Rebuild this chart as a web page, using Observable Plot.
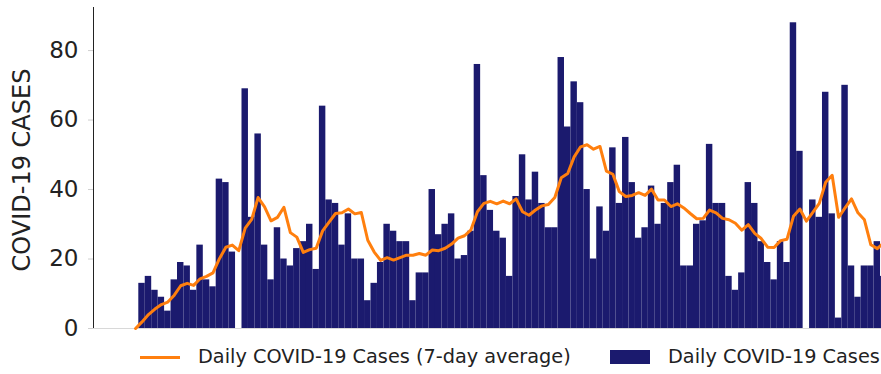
<!DOCTYPE html>
<html><head><meta charset="utf-8">
<script src="https://cdn.jsdelivr.net/npm/d3@7"></script>
<script src="https://cdn.jsdelivr.net/npm/@observablehq/plot@0.6"></script>
<style>
body{margin:0;background:#fff;font-family:"DejaVu Sans",sans-serif;}
#wrap{width:881px;height:374px;overflow:hidden;position:relative;background:#fff;}
#legend{position:relative;height:36px;color:#222;font-size:19.3px;}
#legend .sw-line{position:absolute;left:140px;top:18px;width:40px;height:3px;background:#ff7f0e;}
#legend .sw-rect{position:absolute;left:610px;top:12px;width:40px;height:14px;background:#1b1a6e;}
#legend .lab{position:absolute;top:8px;line-height:22px;white-space:nowrap;}
</style></head><body>
<div id="wrap"><div id="chart"></div><div id="legend"></div></div>
<script>
// Daily cases, one value per day (day 0 .. 115)
const dailyCases = [13,15,11,9,5,14,19,18,11,24,14,12,43,42,22,0,69,32,56,24,14,29,20,18,23,25,30,17,64,37,36,24,33,20,20,8,13,19,30,28,25,25,8,16,16,40,27,30,33,20,21,28,76,44,34,28,26,15,38,50,37,45,36,29,29,78,58,71,65,40,20,35,28,52,36,55,42,26,29,41,30,36,42,47,18,18,30,31,53,36,36,15,11,16,42,36,25,19,14,25,19,88,51,0,37,32,68,33,3,70,18,9,18,18,25,15];
// 7-day average line, starting one day before the first bar (day -1 .. 115)
const avgCases = [0,1.9,4.0,5.6,6.9,7.6,9.6,12.3,13.0,12.4,14.3,15.0,16.0,20.1,23.4,24.0,22.4,28.9,31.4,37.7,35.0,31.0,32.0,34.9,27.6,26.3,21.9,22.7,23.1,28.1,30.6,33.1,33.3,34.4,33.0,33.4,25.4,22.0,19.6,20.4,19.7,20.4,21.1,21.1,21.6,21.1,22.6,22.4,23.1,24.3,26.0,26.7,28.4,33.6,36.0,36.6,35.9,36.7,35.9,37.3,33.6,32.6,34.1,35.3,35.7,37.7,43.4,44.6,49.4,52.3,52.9,51.6,52.4,45.3,44.4,39.4,38.0,38.3,39.1,38.3,40.1,37.0,37.0,35.1,35.9,34.7,33.1,31.6,31.7,34.1,33.3,31.7,31.3,30.3,28.3,29.9,27.4,25.9,23.4,23.3,25.3,25.7,32.3,34.4,30.9,33.4,36.0,42.1,44.1,32.0,34.7,37.3,33.3,31.3,24.1,23.0,24.7];
const yTicks = [0,20,40,60,80];
const axisLabel = "COVID-19 CASES";
const seriesLabels = ["Daily COVID-19 Cases (7-day average)", "Daily COVID-19 Cases"];
const barColor = "#1b1a6e";
const lineColor = "#ff7f0e";

const bars = dailyCases.map((v, i) => ({day: i, cases: v}));
const avg = avgCases.map((v, i) => ({day: i - 1, avg: v}));

const chart = Plot.plot({
  width: 881,
  height: 338,
  marginLeft: 93,
  marginRight: 0,
  marginTop: 7,
  marginBottom: 10,
  style: {fontFamily: "DejaVu Sans", fontSize: "23px", background: "#fff", color: "#222", overflow: "visible"},
  x: {type: "linear", domain: [-0.5, 114.65], range: [138.3, 881], axis: null},
  y: {domain: [0, 92.4], ticks: yTicks, tickSize: 5, tickPadding: 10, label: null, line: true},
  marks: [
    Plot.rectY(bars, {x1: d => d.day - 0.5, x2: d => d.day + 0.5, y: "cases", fill: barColor, inset: 0}),
    Plot.ruleY([0], {stroke: "#d8d8d8"}),
    Plot.line(avg, {x: "day", y: "avg", stroke: lineColor, strokeWidth: 3}),
    Plot.text([axisLabel], {frameAnchor: "left", dx: -71, dy: 2, rotate: -90, textAnchor: "middle", fontSize: 24, fill: "#222"})
  ]
});
// lighten the axis line and ticks
chart.querySelectorAll('[aria-label^="y-axis"] line, [aria-label^="y-axis"] path').forEach(el => {
  el.setAttribute("stroke", "#cfcfcf");
});
document.getElementById("chart").appendChild(chart);

const legend = document.getElementById("legend");
legend.innerHTML =
  `<div class="sw-line"></div><div class="lab" style="left:198px">${seriesLabels[0]}</div>` +
  `<div class="sw-rect"></div><div class="lab" style="left:668px">${seriesLabels[1]}</div>`;
</script>
</body></html>
